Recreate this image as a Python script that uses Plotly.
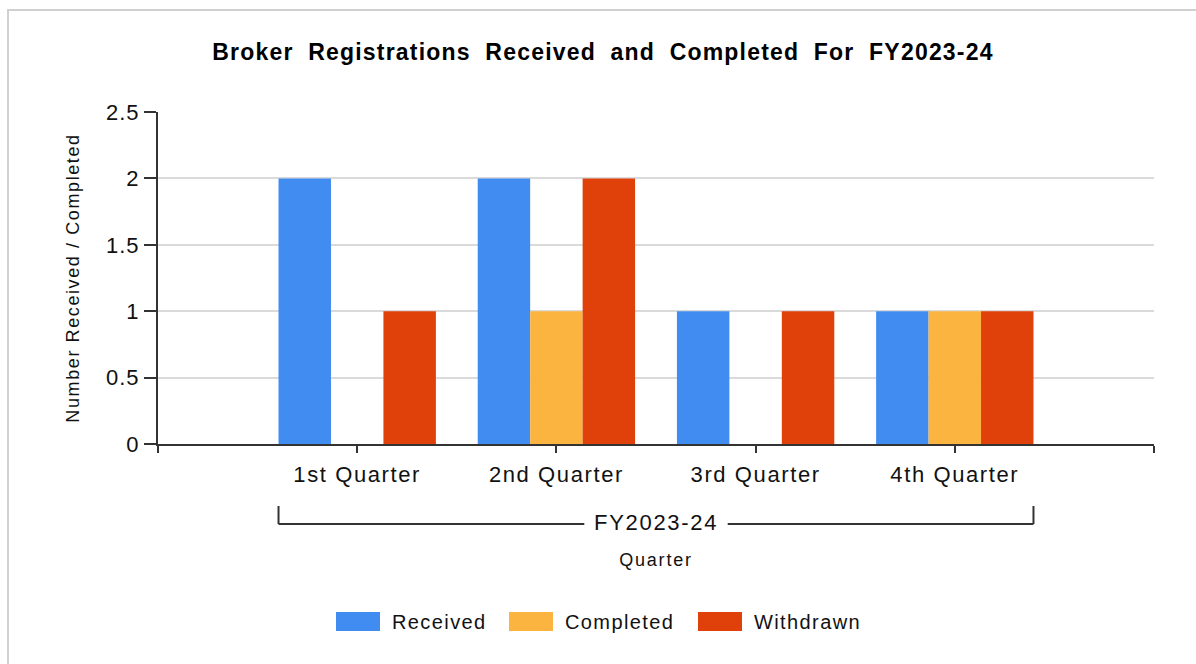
import plotly.graph_objects as go

# ---------------- data ----------------
title_text = "Broker Registrations Received and Completed For FY2023-24"
quarters = ["1st Quarter", "2nd Quarter", "3rd Quarter", "4th Quarter"]
fiscal_year = "FY2023-24"
series_names = ["Received", "Completed", "Withdrawn"]
received = [2, 2, 1, 1]
completed = [0, 1, 0, 1]
withdrawn = [1, 2, 1, 1]
y_tick_values = [0, 0.5, 1, 1.5, 2, 2.5]
x_title = "Quarter"
y_title = "Number Received / Completed"

# ---------------- style ----------------
colors = ["#418CF0", "#FCB441", "#E0400A"]
FONT = "Liberation Sans, Arial, sans-serif"
TXT = "#111111"
W, H = 1196, 664
ML, MR, MT, MB = 158, 42, 112, 220
PW, PH = W - ML - MR, H - MT - MB


def sp(text, ls=1.6, ws=0):
    style = f"letter-spacing:{ls}px"
    if ws:
        style += f";word-spacing:{ws}px"
    return f'<span style="{style}">{text}</span>'


def px_x(px):
    return (px - ML) / PW


def px_y(py):
    return (H - MB - py) / PH


series_values = [received, completed, withdrawn]
xpos = list(range(len(quarters)))

fig = go.Figure()
for name, vals, col in zip(series_names, series_values, colors):
    fig.add_trace(go.Bar(x=xpos, y=vals, name=name, marker=dict(color=col, line=dict(width=0)),
                         showlegend=False))

shapes = []
annotations = []

# outer frame
shapes.append(dict(type="rect", xref="paper", yref="paper", x0=px_x(8), x1=px_x(1300),
                   y0=px_y(720), y1=px_y(10), line=dict(color="#D0D0D0", width=2),
                   fillcolor="rgba(0,0,0,0)", layer="below"))

# fiscal year bracket (group label)
half_group = 0.395
bx0, bx1 = xpos[0] - half_group, xpos[-1] + half_group
mid = (xpos[0] + xpos[-1]) / 2
gap = 0.36
line_style = dict(color="#333333", width=2)
y_top, y_bot = px_y(506), px_y(524)
shapes += [
    dict(type="line", xref="x", yref="paper", x0=bx0, x1=bx0, y0=y_top, y1=y_bot, line=line_style),
    dict(type="line", xref="x", yref="paper", x0=bx1, x1=bx1, y0=y_top, y1=y_bot, line=line_style),
    dict(type="line", xref="x", yref="paper", x0=bx0, x1=mid - gap, y0=y_bot, y1=y_bot, line=line_style),
    dict(type="line", xref="x", yref="paper", x0=mid + gap, x1=bx1, y0=y_bot, y1=y_bot, line=line_style),
]
annotations.append(dict(x=mid, y=px_y(522), xref="x", yref="paper", text=sp(fiscal_year, 1.7),
                        showarrow=False, xanchor="center", yanchor="middle",
                        font=dict(family=FONT, size=22, color=TXT)))

# custom legend
legend_sq_px = [336, 509, 698]
for name, col, lx in zip(series_names, colors, legend_sq_px):
    shapes.append(dict(type="rect", xref="paper", yref="paper", x0=px_x(lx), x1=px_x(lx + 44),
                       y0=px_y(631), y1=px_y(612), fillcolor=col, line=dict(width=0)))
    annotations.append(dict(x=px_x(lx + 54), y=px_y(622), xref="paper", yref="paper",
                            text=sp(name, 1.4), showarrow=False, xanchor="left", yanchor="middle",
                            font=dict(family=FONT, size=20, color=TXT)))

fig.update_layout(
    width=W, height=H,
    margin=dict(l=ML, r=MR, t=MT, b=MB, pad=0),
    paper_bgcolor="white", plot_bgcolor="white",
    barmode="group", bargap=0.21, bargroupgap=0,
    showlegend=False,
    title=dict(text=sp(title_text, 1.2, 7), x=603 / W, xref="container", xanchor="center",
               y=1 - 52 / H, yref="container", yanchor="middle",
               font=dict(family=FONT, size=23, color="#000000", weight="bold")),
    font=dict(family=FONT, color=TXT),
    shapes=shapes,
    annotations=annotations,
)

fig.update_xaxes(
    range=[-1, len(quarters)],
    tickmode="array",
    tickvals=[-1] + xpos + [len(quarters)],
    ticktext=[""] + [sp(q, 1.6) for q in quarters] + [""],
    ticks="outside", ticklen=7, tickwidth=2, tickcolor="#333333",
    showline=True, linecolor="#333333", linewidth=2,
    showgrid=False, zeroline=False,
    ticklabelstandoff=3,
    tickfont=dict(family=FONT, size=22, color=TXT),
    title=dict(text=sp(x_title, 1.8), standoff=67, font=dict(family=FONT, size=18, color=TXT)),
)

fig.update_yaxes(
    range=[0, 2.5],
    tickmode="array",
    tickvals=y_tick_values,
    ticktext=[sp(f"{v:g}", 1.0) for v in y_tick_values],
    ticks="outside", ticklen=12, tickwidth=2, tickcolor="#333333",
    showline=True, linecolor="#333333", linewidth=2,
    showgrid=True, gridcolor="#DADADA", gridwidth=1.5,
    zeroline=False,
    tickfont=dict(family=FONT, size=22, color=TXT),
    title=dict(text=sp(y_title, 1.6), standoff=22, font=dict(family=FONT, size=18, color=TXT)),
)

fig.write_html("out.html", config={"displayModeBar": False},
               post_script="document.body.style.margin='0';")
